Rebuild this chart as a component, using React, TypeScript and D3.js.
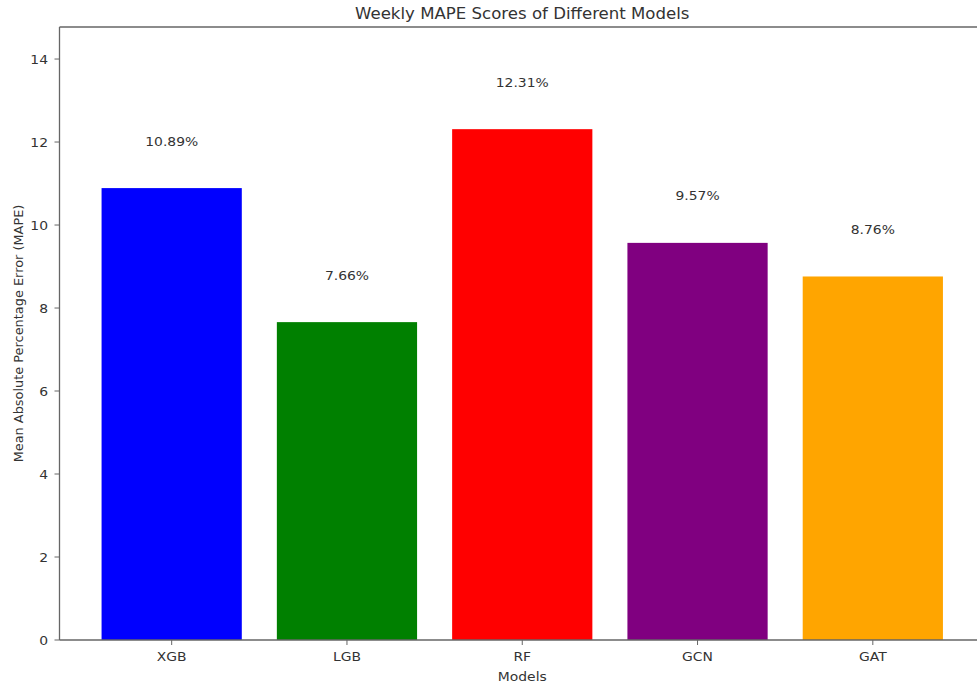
import React from "react";
import * as d3 from "d3";

const models = ["XGB", "LGB", "RF", "GCN", "GAT"];
const mape = [10.89, 7.66, 12.31, 9.57, 8.76];
const colors = ["blue", "green", "red", "purple", "orange"];
const yTicks = [0, 2, 4, 6, 8, 10, 12, 14];

const W = 977;
const H = 686;
const left = 59.5;
const right = 985;
const top = 27;
const bottom = 640;
const SX = 1.07;

export default function App() {
  const x = d3.scaleLinear().domain([-0.64, 4.64]).range([left, right]);
  const yMax = d3.max(mape)! * 1.2;
  const y = d3.scaleLinear().domain([0, yMax]).range([bottom, top]);
  const bw = x(0.4) - x(0);
  const font = "DejaVu Sans, sans-serif";
  const axisColor = "#666";
  const textColor = "#333";
  const fs = 13;
  return (
    <div style={{ position: "fixed", left: 0, top: 0 }}>
      <svg width={W} height={H} style={{ display: "block", background: "#fff" }} fontFamily={font}>
        <rect x={0} y={0} width={W} height={H} fill="#fff" />
        {mape.map((v, i) => (
          <rect key={models[i]} x={x(i) - bw} y={y(v)} width={bw * 2} height={y(0) - y(v)} fill={colors[i]} />
        ))}
        {mape.map((v, i) => (
          <text
            key={"l" + i}
            transform={`translate(${x(i)}, ${y(v + 1) - 1}) scale(${SX},1)`}
            textAnchor="middle"
            fontSize={fs}
            fill={textColor}
          >
            {v.toFixed(2) + "%"}
          </text>
        ))}
        <line x1={left} x2={left} y1={top} y2={bottom} stroke={axisColor} strokeWidth={1.3} />
        <line x1={left} x2={right} y1={bottom} y2={bottom} stroke={axisColor} strokeWidth={1.3} />
        <line x1={left} x2={right} y1={top} y2={top} stroke={axisColor} strokeWidth={1.3} />
        <line x1={right} x2={right} y1={top} y2={bottom} stroke={axisColor} strokeWidth={1.3} />
        {yTicks.map((t) => (
          <g key={"y" + t}>
            <line x1={left - 5} x2={left} y1={y(t)} y2={y(t)} stroke={axisColor} strokeWidth={1} />
            <text
              transform={`translate(${left - 11.5}, ${y(t)}) scale(${SX},1)`}
              dy="0.36em"
              textAnchor="end"
              fontSize={fs}
              fill={textColor}
            >
              {t}
            </text>
          </g>
        ))}
        {models.map((m, i) => (
          <g key={"x" + m}>
            <line x1={x(i)} x2={x(i)} y1={bottom} y2={bottom + 5} stroke={axisColor} strokeWidth={1} />
            <text
              transform={`translate(${x(i)}, ${bottom + 21}) scale(${SX},1)`}
              textAnchor="middle"
              fontSize={fs}
              fill={textColor}
            >
              {m}
            </text>
          </g>
        ))}
        <text
          transform={`translate(${(left + right) / 2}, 681) scale(${SX},1)`}
          textAnchor="middle"
          fontSize={fs}
          fill={textColor}
        >
          Models
        </text>
        <text
          transform={`translate(23, ${(top + bottom) / 2}) rotate(-90)`}
          textAnchor="middle"
          fontSize={12.9}
          fill={textColor}
        >
          Mean Absolute Percentage Error (MAPE)
        </text>
        <text
          transform={`translate(${(left + right) / 2}, 18.5) scale(${SX},1)`}
          textAnchor="middle"
          fontSize={15.5}
          fill={textColor}
        >
          Weekly MAPE Scores of Different Models
        </text>
      </svg>
    </div>
  );
}
